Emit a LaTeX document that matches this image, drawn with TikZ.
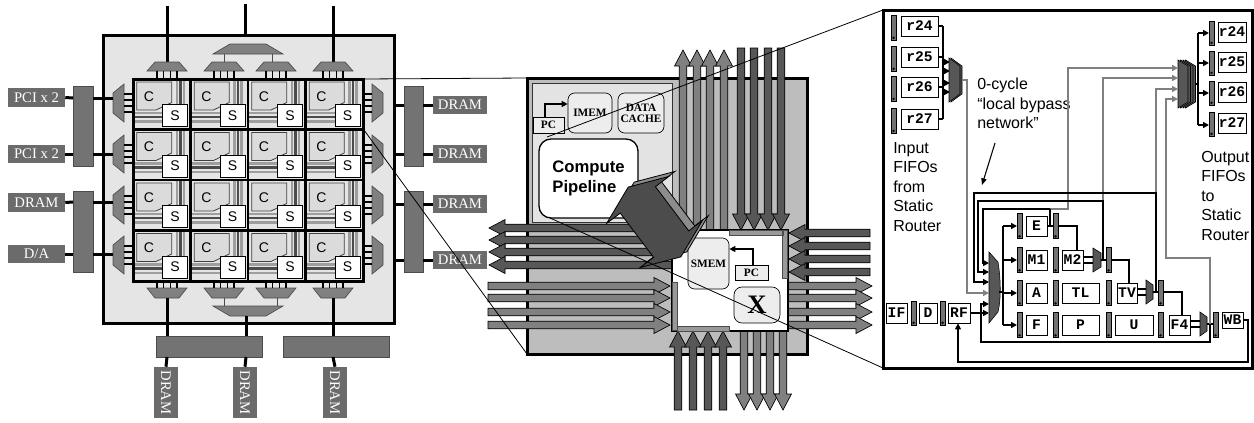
\documentclass[tikz,border=0pt]{standalone}
\usepackage{fontspec}
\setmainfont{Liberation Serif}
\setsansfont{Liberation Sans}
\setmonofont{Liberation Mono}
\usetikzlibrary{arrows.meta}
\definecolor{chipbg}{gray}{0.9}
\definecolor{labbg}{gray}{0.42}
\definecolor{bargray}{gray}{0.45}
\definecolor{trapgray}{gray}{0.5}
\definecolor{tilebg}{gray}{0.74}
\definecolor{procbg}{gray}{0.89}
\definecolor{boxbg}{gray}{0.93}
\definecolor{arrdark}{gray}{0.34}
\definecolor{arrmed}{gray}{0.5}
\definecolor{cellc}{gray}{0.86}
\definecolor{stripel}{gray}{0.62}
\definecolor{striped}{gray}{0.3}
\definecolor{wiregray}{gray}{0.5}
\definecolor{diagdark}{gray}{0.3}
\definecolor{diaglight}{gray}{0.55}
\newcommand\mybox[7]{\node[inner sep=0pt,#7,minimum width={((#4)-(#2))*0.75pt},minimum height={((#5)-(#3))*0.75pt}] (#1) at ({((#2)+(#4))/2},{((#3)+(#5))/2}) {#6};}
\newcommand\myfifo[4]{\mybox{#1}{#2}{#3}{(#2)+5}{#4}{}{draw=black,fill=bargray,line width=0.4pt}\fill ({(#2)+2.5},{(#4)-2.2}) circle[radius=1.3];}
\newcommand\hbarrow[4]{%
  \pgfmathsetmacro\hbdir{sign((#3)-(#2))}%
  \pgfmathsetmacro\hbbase{(#3)-16*\hbdir}%
  \filldraw[fill=#4,draw=black,line width=0.5pt] (#2,{(#1)-3.8}) -- (\hbbase,{(#1)-3.8}) -- (\hbbase,{(#1)-8.5}) -- (#3,#1) -- (\hbbase,{(#1)+8.5}) -- (\hbbase,{(#1)+3.8}) -- (#2,{(#1)+3.8}) -- cycle;}
\newcommand\vbarrow[4]{%
  \pgfmathsetmacro\vbdir{sign((#3)-(#2))}%
  \pgfmathsetmacro\vbbase{(#3)-16*\vbdir}%
  \filldraw[fill=#4,draw=black,line width=0.5pt] ({(#1)-3.8},#2) -- ({(#1)-3.8},\vbbase) -- ({(#1)-8.5},\vbbase) -- (#1,#3) -- ({(#1)+8.5},\vbbase) -- ({(#1)+3.8},\vbbase) -- ({(#1)+3.8},#2) -- cycle;}
\newcommand\mymux[5]{\filldraw[fill=arrdark,draw=black,line width=0.4pt] (#1,{(#3)-(#4)}) -- (#2,{(#3)-(#5)}) -- (#2,{(#3)+(#5)}) -- (#1,{(#3)+(#4)}) -- cycle;}
\newcommand\bigdarrow{(-43.7,0) -- (-27.7,39) -- (-27.7,22) -- (27.7,22) -- (27.7,39) -- (43.7,0) -- (27.7,-39) -- (27.7,-22) -- (-27.7,-22) -- (-27.7,-39) -- cycle}
\tikzset{
 labst/.style={fill=labbg,text=white,font=\fontsize{11}{11}\selectfont},
 pinline/.style={line width=2.25pt},
 trap/.style={fill=trapgray,draw=black!70,line width=0.5pt},
 tickst/.style={line width=0.9pt,black},
 fbarst/.style={fill=bargray,draw=black!70,line width=0.5pt},
 reg/.style={draw=black,fill=white,line width=0.6pt,font=\ttfamily\bfseries\fontsize{11}{11}\selectfont},
 wire/.style={line width=1.1pt,black},
 gwire/.style={line width=1.3pt,wiregray},
 atip/.style={-{Triangle[length=4.5pt,width=4.5pt]}},
 sbox/.style={draw=black,fill=boxbg,line width=0.5pt,font=\bfseries\fontsize{8.5}{9}\selectfont,align=center},
 rtext/.style={font=\sffamily\fontsize{12}{14.6}\selectfont,align=left,inner sep=0pt},
}
\begin{document}
\begin{tikzpicture}[x=0.75pt,y=-0.75pt]
\useasboundingbox (0,0) rectangle (1254,422);
\fill[white] (0,0) rectangle (1254,422);
%%%%%%%% LEFT CHIP
\draw[line width=2.25pt,fill=chipbg] (103,35) rectangle (394,323);
\draw[pinline] (167,6) -- (167,63);
\draw[pinline] (245,4) -- (245,35);
\draw[pinline] (333,6) -- (333,63);
\draw[trap] (230,44) -- (266,44) -- (283,54) -- (213,54) -- cycle;
\draw[black!70,line width=0.6pt] (224,54) -- (224,62) (272,54) -- (272,62);
\foreach \xc in {167,224,276,333}{
  \draw[trap] (\xc-12,62) -- (\xc+12,62) -- (\xc+20,71) -- (\xc-20,71) -- cycle;
  \foreach \d in {-10,-3.3,3.3,10} \draw[tickst] (\xc+\d,71) -- (\xc+\d,79);
  \draw[trap] (\xc-20,288) -- (\xc+20,288) -- (\xc+12,298) -- (\xc-12,298) -- cycle;
  \foreach \d in {-10,-3.3,3.3,10} \draw[tickst] (\xc+\d,281) -- (\xc+\d,288);
}
\draw[trap] (213,306) -- (283,306) -- (266,316) -- (230,316) -- cycle;
\draw[black!70,line width=0.6pt] (224,298) -- (224,306) (277,298) -- (277,306);
\draw[pinline] (167,298) -- (167,336);
\draw[pinline] (246,316) -- (246,336);
\draw[pinline] (333,298) -- (333,336);
\foreach \yc in {103,154,205,255}{
  \draw[trap] (113,\yc-10) -- (124,\yc-19) -- (124,\yc+19) -- (113,\yc+10) -- cycle;
  \foreach \d in {-9,-3,3,9} \draw[tickst] (124,\yc+\d) -- (133,\yc+\d);
  \draw[trap] (372,\yc-19) -- (383,\yc-10) -- (383,\yc+10) -- (372,\yc+19) -- cycle;
  \foreach \d in {-9,-3,3,9} \draw[tickst] (363,\yc+\d) -- (372,\yc+\d);
}
% cells
\foreach \i in {0,1,2,3}{\foreach \j in {0,1,2,3}{
  \pgfmathsetmacro\xo{133+57.5*\j}
  \pgfmathsetmacro\yo{79+50.5*\i}
  \draw[line width=2pt,stripel] (\xo+44,\yo) -- (\xo+44,\yo+26);
  \draw[line width=1.9pt,striped] (\xo+47.5,\yo) -- (\xo+47.5,\yo+26);
  \draw[line width=1.9pt,stripel] (\xo+51,\yo) -- (\xo+51,\yo+26);
  \draw[line width=2pt,stripel] (\xo,\yo+34) -- (\xo+30,\yo+34);
  \draw[line width=1.9pt,striped] (\xo,\yo+38) -- (\xo+30,\yo+38);
  \draw[line width=1.9pt,stripel] (\xo,\yo+42.5) -- (\xo+30,\yo+42.5);
  \filldraw[fill=cellc,draw=black!75,line width=0.6pt] (\xo+3.7,\yo+3) -- (\xo+38.7,\yo+3) -- (\xo+38.7,\yo+23.5) -- (\xo+23,\yo+31) -- (\xo+3.7,\yo+31) -- cycle;
  \node[font=\sffamily\fontsize{10.5}{10.5}\selectfont,inner sep=0pt] (c\i\j) at (\xo+16,\yo+17.5) {C};
  \mybox{s\i\j}{\xo+29.5}{\yo+25.5}{\xo+54.5}{\yo+47.5}{S}{draw=black,fill=white,line width=0.6pt,font=\sffamily\fontsize{10.5}{10.5}\selectfont}
}}
\draw[line width=2.25pt] (133,79) rectangle (363,281);
\foreach \xx in {190.5,248,305.5} \draw[line width=2pt] (\xx,79) -- (\xx,281);
\foreach \yy in {129.5,180,230.5} \draw[line width=2pt] (133,\yy) -- (363,\yy);
% left IO
\mybox{pci1}{8}{88}{65}{107}{PCI x 2}{labst}
\mybox{pci2}{8}{145}{65}{163}{PCI x 2}{labst}
\mybox{ldram}{8}{193}{65}{212}{DRAM}{labst}
\mybox{da}{8}{245}{65}{263}{D/A}{labst}
\mybox{lbar1}{73}{86}{93}{166}{}{fbarst}
\mybox{lbar2}{73}{191}{93}{272}{}{fbarst}
\foreach \nm/\yy in {pci1/98,pci2/154,ldram/202,da/254}{
  \draw[pinline] (\nm.east) -- (73,\yy);
  \draw[pinline] (93,\yy) -- (113,\yy);
}
% right IO
\mybox{rbar1}{404}{86}{423}{166}{}{fbarst}
\mybox{rbar2}{404}{191}{423}{272}{}{fbarst}
\mybox{rd1}{433}{96}{487}{114}{DRAM}{labst}
\mybox{rd2}{433}{145}{487}{163}{DRAM}{labst}
\mybox{rd3}{433}{195}{487}{213}{DRAM}{labst}
\mybox{rd4}{433}{251}{487}{269}{DRAM}{labst}
\foreach \nm/\yy in {rd1/105,rd2/154,rd3/204,rd4/260}{
  \draw[pinline] (394,\yy) -- (404,\yy);
  \draw[pinline] (423,\yy) -- (\nm.west);
}
% bottom IO
\mybox{bbar1}{156}{336}{262}{357}{}{fbarst}
\mybox{bbar2}{283}{336}{389}{357}{}{fbarst}
\foreach \xx/\nm in {166/bd1,245/bd2,335/bd3}{
  \node[labst,rotate=-90,inner sep=0pt,minimum width=38.25pt,minimum height=17.5pt] (\nm) at (\xx,392.5) {DRAM};
}
\draw[pinline] (167,357) -- (bd1.west);
\draw[pinline] (246,357) -- (bd2.west);
\draw[pinline] (333,357) -- (bd3.west);
%%%%%%%% MIDDLE TILE
\draw[line width=2.25pt,fill=tilebg] (527,78) rectangle (807,354);
\draw[line width=0.7pt,draw=black!80,fill=procbg] (532,83) rectangle (672,222);
\mybox{pca}{533}{117}{564}{133}{PC}{sbox}
\mybox{imem}{568}{93}{612}{133}{IMEM}{sbox,rounded corners=5pt}
\mybox{dcache}{618}{93}{664}{133}{DATA\\[-1pt]CACHE}{sbox,rounded corners=5pt}
\draw[line width=0.9pt,atip] (545,117) -- (545,104) -- (imem.west |- 0,104);
\mybox{cpipe}{539}{139}{638}{218}{Compute\\Pipeline}{draw=black,fill=white,line width=1pt,rounded corners=9pt,font=\sffamily\bfseries\fontsize{12.5}{14.5}\selectfont,align=left}
% network arrows
\foreach \xx in {683,697,710,724} {\vbarrow{\xx}{230}{50}{arrmed}}
\foreach \xx in {741,754,768,781} {\vbarrow{\xx}{48}{230}{arrdark}}
\foreach \xx in {678,693,708,723} {\vbarrow{\xx}{410}{331}{arrdark}}
\foreach \xx in {744,757,770,783} {\vbarrow{\xx}{331}{410}{arrmed}}
\foreach \yy in {228,240,252,265} {\hbarrow{\yy}{672}{489}{arrdark}}
\foreach \yy in {286,298,312,325} {\hbarrow{\yy}{488}{670}{arrmed}}
\foreach \yy in {233,246,259,272} {\hbarrow{\yy}{870}{789}{arrdark}}
\foreach \yy in {286,298,312,325} {\hbarrow{\yy}{788}{872}{arrmed}}
% switch
\draw[line width=1pt,fill=white] (672,230) rectangle (788,331);
\filldraw[fill=black!40,draw=black!70,line width=0.4pt] (729,230) rectangle (783,235) (782,230) rectangle (787,278) (672,282) rectangle (677,330) (677,326) rectangle (729,331);
\mybox{smem}{688}{238}{729}{289}{SMEM}{sbox,rounded corners=5pt}
\mybox{pcb}{735}{265}{768}{280}{PC}{sbox}
\draw[line width=0.9pt,atip] (753,265) -- (753,249) -- (smem.east |- 0,249);
\mybox{xbar}{734}{287}{780}{323}{X}{draw=black,fill=boxbg,line width=0.5pt,rounded corners=6pt,font=\bfseries\fontsize{20}{20}\selectfont}
% big double arrow (compute pipeline <-> switch)
\begin{scope}[shift={(660.5,217)},rotate=-53]
\filldraw[fill=diaglight,draw=black,line width=0.6pt] \bigdarrow;
\end{scope}
\begin{scope}[shift={(654.5,222)},rotate=-53]
\filldraw[fill=diagdark,draw=black,line width=0.6pt] \bigdarrow;
\end{scope}
%%%%%%%% RIGHT PANEL
\draw[line width=2.25pt,fill=white] (883,10) rectangle (1252,368);
\foreach \n/\cy in {24/26,25/57,26/87,27/119}{
  \myfifo{ib\n}{891}{\cy-11}{\cy+14}
  \mybox{ir\n}{901}{\cy-10}{938}{\cy+10}{r\n}{reg}
  \draw[wire] (ir\n.east) -- (943,\cy);
}
\draw[wire] (943,26) -- (943,119);
\foreach \yy in {62,71,83,92} \draw[wire,atip] (943,\yy) -- (950,\yy);
\mymux{951}{962}{80}{22}{14}
\mymux{949}{960}{80}{22}{14}
\foreach \n/\cy in {24/32,25/62,26/92,27/123}{
  \myfifo{ob\n}{1209}{\cy-11}{\cy+13}
  \mybox{or\n}{1218}{\cy-10}{1246}{\cy+10}{r\n}{reg}
}
\foreach \k in {3,2,1,0}{\mymux{1178+2.5*\k}{1188+2.5*\k}{84}{24}{18}}
\draw[wire] (1195,84) -- (1198,84);
\draw[wire] (1198,33) -- (1198,125);
\foreach \yy in {33,63,93,125} \draw[wire,atip] (1198,\yy) -- (1209,\yy);
\node[rtext,anchor=north west] (bypass) at (977,78) {0-cycle\\“local bypass\\network”};
\node[rtext,anchor=north west] (infifo) at (893,142) {Input\\FIFOs\\from\\Static\\Router};
\node[rtext,anchor=north west] (outfifo) at (1201,151) {Output\\FIFOs\\to\\Static\\Router};
\draw[line width=0.8pt,-{Triangle[length=5pt,width=4pt]}] (995,143) -- (982,185);
% pipeline
\mybox{IF}{886}{303}{907}{323}{IF}{reg}
\myfifo{b0}{911}{301}{325}
\mybox{D}{919}{303}{937}{323}{D}{reg}
\myfifo{b1}{940}{301}{325}
\mybox{RF}{948}{303}{970}{323}{RF}{reg}
\filldraw[fill=arrdark,draw=black,line width=0.4pt] (989,252) -- (998,262) .. controls (1001,280) and (1001,300) .. (998,312) -- (989,323) -- cycle;
\draw[wire] (999,292) -- (1003,292);
\draw[wire] (1003,226) -- (1003,325);
\foreach \yy in {226,260,293,325} \draw[wire,atip] (1003,\yy) -- (1017,\yy);
\foreach \r/\cy in {E/226,M/260,A/293,F/325}{
  \myfifo{ba\r}{1017}{\cy-12.5}{\cy+12.5}
  \myfifo{bb\r}{1053}{\cy-12.5}{\cy+12.5}
}
\foreach \r/\cy in {M/260,A/293,F/325}{\myfifo{bc\r}{1106}{\cy-12.5}{\cy+12.5}}
\foreach \r/\cy in {A/293,F/325}{\myfifo{bd\r}{1158}{\cy-12.5}{\cy+12.5}}
\myfifo{beF}{1213}{312.5}{337.5}
\mybox{E}{1026}{216}{1047}{236}{E}{reg}
\mybox{M1}{1026}{250}{1047}{270}{M1}{reg}
\mybox{A}{1026}{283}{1047}{303}{A}{reg}
\mybox{F}{1026}{315}{1047}{335}{F}{reg}
\mybox{M2}{1062}{250}{1083}{270}{M2}{reg}
\mybox{TL}{1062}{283}{1099}{303}{TL}{reg}
\mybox{P}{1062}{315}{1099}{335}{P}{reg}
\mybox{TV}{1117}{283}{1137}{303}{TV}{reg}
\mybox{U}{1115}{315}{1153}{335}{U}{reg}
\mybox{F4}{1169}{315}{1190}{335}{F4}{reg}
\mybox{WB}{1222}{312}{1243}{328}{WB}{reg}
\mymux{1093}{1101}{260}{12}{7}
\mymux{1146}{1153}{292}{12}{7}
\mymux{1200}{1207}{324}{12}{7}
\draw[wire] (M2.east |- 0,257) -- (1093,257) (M2.east |- 0,263) -- (1093,263);
\draw[wire] (TV.east |- 0,289) -- (1146,289) (TV.east |- 0,295) -- (1146,295);
\draw[wire] (F4.east |- 0,321) -- (1200,321) (F4.east |- 0,327) -- (1200,327);
\draw[wire] (1101,260) -- (1106,260) (1153,292) -- (1158,292) (1207,324) -- (1213,324);
\draw[wire] (E.east) -- (1053,226);
% forward paths
\draw[wire] (1058,226) -- (1077,226) -- (1077,250);
\draw[wire] (1112,260) -- (1129,260) -- (TV.north -| 1129,0);
\draw[wire] (1164,292) -- (1182,292) -- (F4.north -| 1182,0);
% gray paths to output mux
\draw[gwire,atip] (1050,209) -- (1068,209) -- (1068,68) -- (1178,68);
\draw[gwire,atip] (1103,201) -- (1103,78) -- (1178,78);
\draw[gwire,atip] (1156,193) -- (1156,89) -- (1178,89);
\draw[gwire,atip] (1210,324) -- (1210,258) -- (1166,258) -- (1166,99) -- (1178,99);
\draw[gwire,atip] (962,80) -- (967,80) -- (967,293) -- (989,293);
% bypass paths back to mux
\draw[wire] (1050,226) -- (1050,209);
\draw[wire,atip] (1050,209) -- (983,209) -- (983,263) -- (989,263);
\draw[wire,atip] (1103,260) -- (1103,201) -- (978,201) -- (978,272) -- (989,272);
\draw[wire,atip] (1156,292) -- (1156,193) -- (974,193) -- (974,282) -- (989,282);
\draw[wire,atip] (1210,324) -- (1210,342) -- (981,342) -- (981,304) -- (989,304);
\draw[wire,atip] (RF.east) -- (989,313);
\draw[wire,atip] (WB.east) -- (1248,320) -- (1248,362) -- (958,362) -- (RF.south -| 958,0);
%%%%%%%% ZOOM LINES
\draw[line width=0.6pt] (363,79) -- (527,78);
\draw[line width=0.6pt] (364,130) -- (527,354);
\draw[line width=0.6pt] (547,137) -- (883,10);
\draw[line width=0.6pt] (550,218) -- (883,368);
\end{tikzpicture}
\end{document}
